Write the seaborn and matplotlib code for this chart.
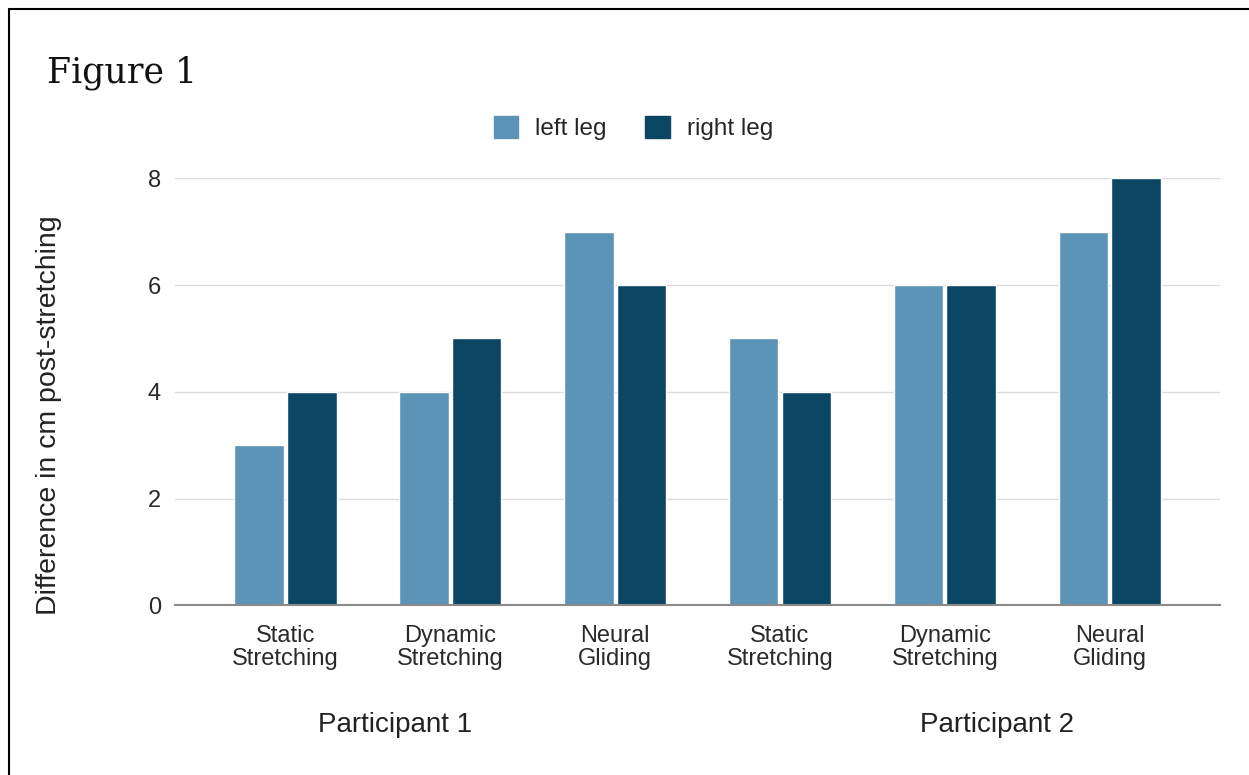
import pandas as pd
import matplotlib.pyplot as plt
import matplotlib.patches as mpatches
from matplotlib.lines import Line2D
import seaborn as sns

# data
groups      = ["P1 Static", "P1 Dynamic", "P1 Neural", "P2 Static", "P2 Dynamic", "P2 Neural"]
tickLabels  = ["Static\nStretching", "Dynamic\nStretching", "Neural\nGliding",
               "Static\nStretching", "Dynamic\nStretching", "Neural\nGliding"]
leftLeg     = [3, 4, 7, 5, 6, 7]
rightLeg    = [4, 5, 6, 4, 6, 8]
participants = ["Participant 1", "Participant 2"]

df = pd.DataFrame({
    "group": groups * 2,
    "leg": ["left leg"] * len(groups) + ["right leg"] * len(groups),
    "value": leftLeg + rightLeg,
})

colors = {"left leg": "#5b94b6", "right leg": "#0b4765"}

sns.set_theme(style="white")
plt.rcParams["font.family"] = ["Liberation Sans", "DejaVu Sans"]

fig = plt.figure(figsize=(12.49, 7.75), dpi=100)
ax = fig.add_axes([0.140, 0.219, 0.837, 0.551])

sns.barplot(data=df, x="group", y="value", hue="leg", order=groups,
            palette=colors, width=0.64, gap=0.06, saturation=1,
            legend=False, ax=ax)

ax.set_ylim(0, 8)
ax.set_xlim(-0.67, 5.67)
ax.set_yticks([0, 2, 4, 6, 8])
ax.yaxis.grid(True, color="#dcdcdc", linewidth=1)
ax.set_axisbelow(True)
for side in ["top", "right", "left"]:
    ax.spines[side].set_visible(False)
ax.spines["bottom"].set_color("#8a8a8a")
ax.spines["bottom"].set_linewidth(1.5)
ax.tick_params(axis="both", length=0, labelsize=17, colors="#2a2a2a")
ax.tick_params(axis="y", pad=10)
ax.tick_params(axis="x", pad=14)
ax.set_xticks(range(len(groups)))
ax.set_xticklabels(tickLabels, linespacing=1.05)
ax.set_xlabel("")
ax.set_ylabel("Difference in cm post-stretching", fontsize=20.5, color="#222222")
ax.yaxis.set_label_coords(-0.108, 0.445)

# participant labels under the group ticks
fig.text(0.316, 0.0645, participants[0], ha="center", va="center", fontsize=20, color="#222222")
fig.text(0.798, 0.0645, participants[1], ha="center", va="center", fontsize=20, color="#222222")

# title
fig.text(0.038, 0.906, "Figure 1", fontsize=25, family=["DejaVu Serif"],
         color="#111111", ha="left", va="center")

# legend
handles = [mpatches.Patch(color=colors[k], label=k) for k in ["left leg", "right leg"]]
fig.legend(handles=handles, loc="center", bbox_to_anchor=(0.507, 0.835), ncol=2,
           frameon=False, fontsize=17.5, handlelength=1.0, handleheight=1.0,
           columnspacing=1.6, handletextpad=0.7)

# page border (top and left edges of the screenshot frame)
fig.add_artist(Line2D([0.007, 1.0], [0.989, 0.989], color="black", linewidth=1.5))
fig.add_artist(Line2D([0.007, 0.007], [0.0, 0.989], color="black", linewidth=1.5))

fig.savefig("out.png", dpi=100)
